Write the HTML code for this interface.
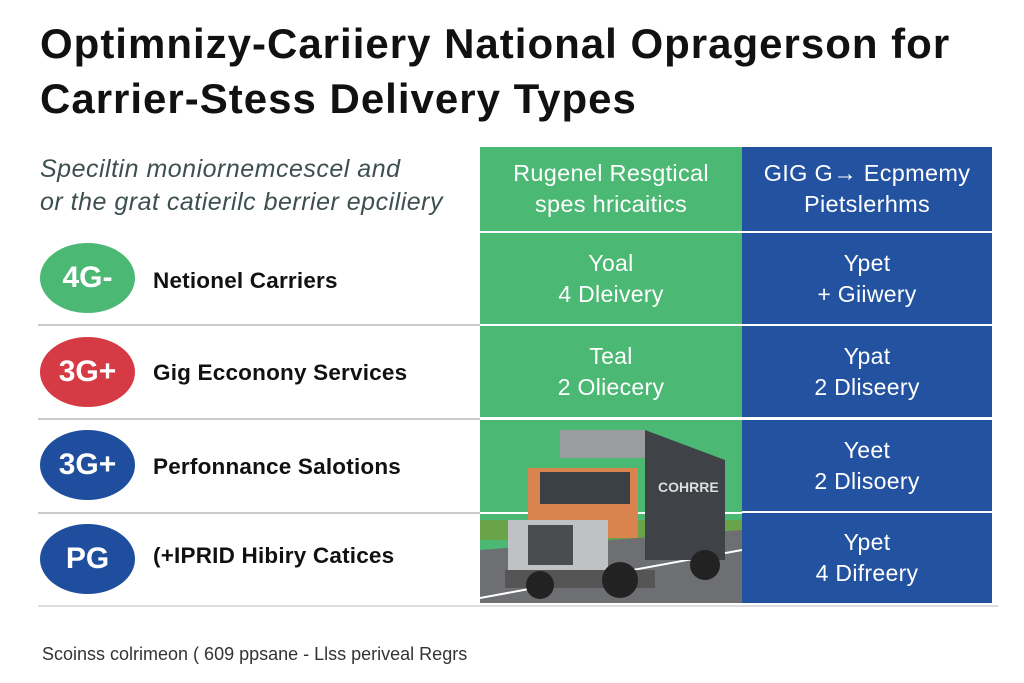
<!DOCTYPE html>
<html><head><meta charset="utf-8"><style>
*{margin:0;padding:0;box-sizing:border-box}
body{width:1024px;height:683px;background:#fff;position:relative;overflow:hidden;font-family:"Liberation Sans",sans-serif}
.a{position:absolute}
.t{left:40px;font-weight:bold;font-size:42px;color:#111;letter-spacing:1px;white-space:nowrap}
.sub{left:40px;font-style:italic;font-size:25px;color:#3d4f4f;letter-spacing:0.5px;white-space:nowrap}
.badge{left:40px;width:95px;height:70px;border-radius:50%;color:#fff;font-weight:bold;font-size:30px;display:flex;align-items:center;justify-content:center}
.lab{left:153px;font-size:22.5px;color:#111;font-weight:bold;letter-spacing:0.2px;white-space:nowrap}
.hl{left:38px;width:442px;height:2px;background:#ccc}
.cell{display:flex;align-items:center;justify-content:center;text-align:center;color:#fff;font-size:23px;line-height:31px;letter-spacing:0.3px}
.g{background:#4bb874}.b{background:#2352a0}
</style></head><body>
<div class="a t" style="top:20px">Optimnizy-Cariiery National Opragerson for</div>
<div class="a t" style="top:75px">Carrier-Stess Delivery Types</div>
<div class="a sub" style="top:155px">Speciltin moniornemcescel and</div>
<div class="a sub" style="top:188px">or the grat catierilc berrier epciliery</div>

<div class="a badge" style="top:243px;background:#4bb874">4G-</div>
<div class="a lab" style="top:268px">Netionel Carriers</div>
<div class="a hl" style="top:324px"></div>
<div class="a badge" style="top:337px;background:#d63b45">3G+</div>
<div class="a lab" style="top:360px">Gig Ecconony Services</div>
<div class="a hl" style="top:418px"></div>
<div class="a badge" style="top:430px;background:#1f4e9e">3G+</div>
<div class="a lab" style="top:454px">Perfonnance Salotions</div>
<div class="a hl" style="top:512px"></div>
<div class="a badge" style="top:524px;background:#1f4e9e">PG</div>
<div class="a lab" style="top:543px">(+IPRID Hibiry Catices</div>
<div class="a hl" style="top:605px;width:960px;background:#ddd"></div>

<div class="a cell g" style="left:480px;top:147px;width:262px;height:84px;font-size:23.5px">Rugenel Resgtical<br>spes hricaitics</div>
<div class="a cell b" style="left:742px;top:147px;width:250px;height:84px;font-size:23.5px">GIG G→ Ecpmemy<br>Pietslerhms</div>
<div class="a cell g" style="left:480px;top:233px;width:262px;height:91px">Yoal<br>4 Dleivery</div>
<div class="a cell b" style="left:742px;top:233px;width:250px;height:91px">Ypet<br>+ Giiwery</div>
<div class="a cell g" style="left:480px;top:326px;width:262px;height:91px">Teal<br>2 Oliecery</div>
<div class="a cell b" style="left:742px;top:326px;width:250px;height:91px">Ypat<br>2 Dliseery</div>
<div class="a cell b" style="left:742px;top:420px;width:250px;height:91px">Yeet<br>2 Dlisoery</div>
<div class="a cell b" style="left:742px;top:513px;width:250px;height:90px">Ypet<br>4 Difreery</div>

<svg class="a" style="left:480px;top:420px" width="262" height="183">
<rect width="262" height="183" fill="#4bb874"/>
<rect y="92" width="262" height="2" fill="#fff"/>
<rect y="100" width="262" height="20" fill="#6aa34a"/>
<polygon points="0,130 262,110 262,183 0,183" fill="#6d6f72"/>
<line x1="0" y1="178" x2="262" y2="130" stroke="#fff" stroke-width="2"/>
<rect x="80" y="10" width="85" height="28" fill="#9a9c9e"/>
<polygon points="165,10 245,40 245,140 165,140" fill="#3f4348"/>
<text x="178" y="72" fill="#ddd" font-size="14" font-weight="bold" font-family="Liberation Sans">COHRRE</text>
<rect x="48" y="48" width="110" height="70" fill="#d9844f"/>
<rect x="60" y="52" width="90" height="32" fill="#3a4046"/>
<rect x="28" y="100" width="100" height="55" fill="#bfc1c3"/>
<rect x="48" y="105" width="45" height="40" fill="#4a4c4e"/>
<rect x="25" y="150" width="150" height="18" fill="#555"/>
<circle cx="60" cy="165" r="14" fill="#222"/>
<circle cx="140" cy="160" r="18" fill="#222"/>
<circle cx="225" cy="145" r="15" fill="#222"/>
</svg>

<div class="a" style="left:42px;top:644px;font-size:18px;color:#333;white-space:nowrap">Scoinss colrimeon ( 609 ppsane - Llss perivеal Regrs</div>
</body></html>
